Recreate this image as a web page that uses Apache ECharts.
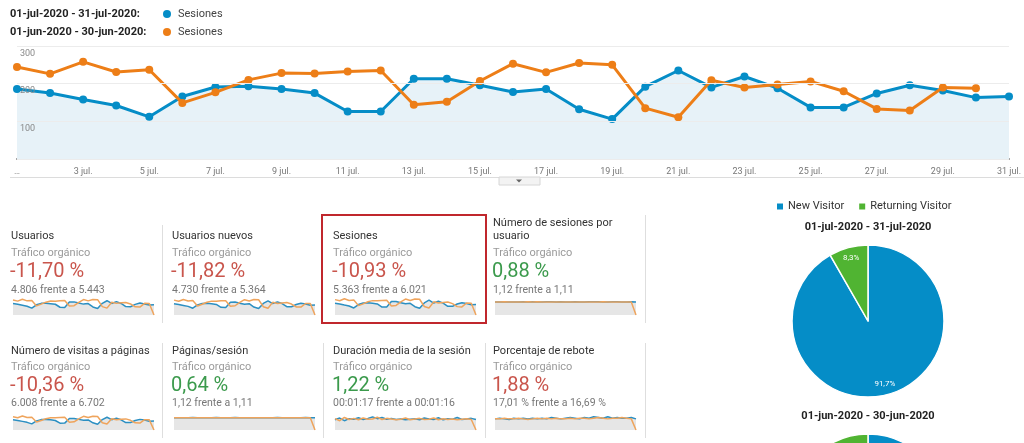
<!DOCTYPE html>
<html><head><meta charset="utf-8">
<script src="https://cdn.jsdelivr.net/npm/echarts@6/dist/echarts.min.js"></script>
<style>html,body{margin:0;padding:0;background:#fff}#c{width:1024px;height:443px}</style>
</head><body><div id="c"></div>
<script>
// ---------- DATA ----------
const days = ["1 jul.","2 jul.","3 jul.","4 jul.","5 jul.","6 jul.","7 jul.","8 jul.","9 jul.","10 jul.","11 jul.","12 jul.","13 jul.","14 jul.","15 jul.","16 jul.","17 jul.","18 jul.","19 jul.","20 jul.","21 jul.","22 jul.","23 jul.","24 jul.","25 jul.","26 jul.","27 jul.","28 jul.","29 jul.","30 jul.","31 jul."];
const yTicks = [0, 100, 200, 300];
const periodJul = "01-jul-2020 - 31-jul-2020";
const periodJun = "01-jun-2020 - 30-jun-2020";
const metricName = "Sesiones";
// Sesiones per day (main chart)
const sesionesJul = [186,175,158,142,112,166,191,193,186,175,126,126,213,213,196,178,186,132,106,192,235,190,219,188,137,137,174,196,182,163,166];
const sesionesJun = [244,226,258,231,237,149,177,210,228,227,232,235,144,152,207,253,230,255,250,135,111,209,190,198,206,180,133,129,190,188];

// Scorecards
const cardTitles = [["Usuarios"],["Usuarios nuevos"],["Sesiones"],["Número de sesiones por","usuario"],["Número de visitas a páginas"],["Páginas/sesión"],["Duración media de la sesión"],["Porcentaje de rebote"]];
const cardSegment = "Tráfico orgánico";
const cardPct = ["-11,70 %","-11,82 %","-10,93 %","0,88 %","-10,36 %","0,64 %","1,22 %","1,88 %"];
const cardGood = [false,false,false,true,false,true,true,false];
const cardSub = ["4.806 frente a 5.443","4.730 frente a 5.364","5.363 frente a 6.021","1,12 frente a 1,11","6.008 frente a 6.702","1,12 frente a 1,11","00:01:17 frente a 00:01:16","17,01 % frente a 16,69 %"];

// Sparklines (July = blue, June = orange; last June point drops to 0)
const sparkUsuariosJul = [168,157,143,129,101,150,171,174,166,158,114,112,191,193,175,160,168,118,96,172,210,170,196,170,124,122,156,176,163,146,150];
const sparkUsuariosJun = [221,204,231,208,214,134,160,189,206,203,210,213,131,137,187,227,208,229,226,123,101,188,171,179,185,163,120,117,171,170,0];
const sparkNuevosJul = [166,155,141,127,100,148,169,172,164,156,113,111,188,190,173,158,166,117,95,170,207,168,193,168,122,121,154,173,161,144,148];
const sparkNuevosJun = [219,202,228,206,212,133,158,187,204,201,208,211,130,136,185,225,206,227,224,122,100,186,170,177,183,161,119,116,169,168,0];
const sparkSesionesJul = [186,175,158,142,112,166,191,193,186,175,126,126,213,213,196,178,186,132,106,192,235,190,219,188,137,137,174,196,182,163,166];
const sparkSesionesJun = [244,226,258,231,237,149,177,210,228,227,232,235,144,152,207,253,230,255,250,135,111,209,190,198,206,180,133,129,190,188,0];
const sparkSesUsrJul = [1.11,1.11,1.10,1.11,1.11,1.11,1.12,1.11,1.12,1.11,1.11,1.12,1.12,1.11,1.12,1.11,1.11,1.12,1.10,1.11,1.12,1.12,1.12,1.11,1.10,1.12,1.12,1.11,1.11,1.12,1.11];
const sparkSesUsrJun = [1.10,1.11,1.12,1.11,1.11,1.11,1.11,1.12,1.11,1.12,1.11,1.10,1.10,1.11,1.11,1.11,1.10,1.11,1.11,1.10,1.10,1.11,1.11,1.12,1.11,1.11,1.11,1.10,1.11,1.11,0];
const sparkVisitasJul = [209,196,178,158,126,186,214,216,209,196,141,142,238,239,219,199,208,148,119,215,263,213,245,211,153,154,195,219,204,182,186];
const sparkVisitasJun = [272,252,288,257,264,166,197,234,254,253,258,262,160,169,231,282,256,284,279,150,124,233,212,221,229,200,148,144,212,209,0];
const sparkPagSesJul = [1.12,1.12,1.11,1.12,1.13,1.12,1.12,1.11,1.12,1.13,1.12,1.12,1.12,1.13,1.12,1.11,1.12,1.12,1.12,1.12,1.11,1.12,1.13,1.12,1.12,1.11,1.12,1.12,1.13,1.12,1.12];
const sparkPagSesJun = [1.11,1.12,1.12,1.11,1.12,1.12,1.11,1.12,1.12,1.11,1.12,1.11,1.11,1.12,1.12,1.11,1.11,1.12,1.11,1.11,1.12,1.11,1.11,1.12,1.11,1.12,1.11,1.11,1.12,1.11,0];
const sparkDuracionJul = [70,82,64,78,74,84,72,80,90,78,86,74,80,72,76,70,74,78,70,82,76,72,84,70,78,74,86,72,76,80,72];
const sparkDuracionJun = [78,64,86,72,80,70,82,74,76,88,72,80,76,70,74,82,70,76,80,72,74,82,70,78,72,76,70,74,78,72,0];
const sparkReboteJul = [16,17,16,15,17,16,17,16,17,16,17,16,18,17,16,17,18,17,16,18,17,19,18,17,19,17,18,17,17,18,16];
const sparkReboteJun = [16,16,17,16,16,17,16,15,16,17,16,17,16,17,16,16,17,16,17,17,16,17,18,17,16,17,17,18,17,16,0];

// Pies
const pieNames = ["New Visitor","Returning Visitor"];
const pieJul = [91.7, 8.3];
const pieJulLabels = ["91,7%","8,3%"];
const pieJun = [90.9, 9.1];
const pieJunLabels = ["90,9%","9,1%"];

// ---------- STYLE / LAYOUT ----------
const BLUE = "#058dc7", ORANGE = "#ed7e17", GREEN = "#50b432";
const SP_BLUE = "#2b8fc2", SP_ORANGE = "#efa45c";
const FONT = "Roboto";
const sparkJul = [sparkUsuariosJul,sparkNuevosJul,sparkSesionesJul,sparkSesUsrJul,sparkVisitasJul,sparkPagSesJul,sparkDuracionJul,sparkReboteJul];
const sparkJun = [sparkUsuariosJun,sparkNuevosJun,sparkSesionesJun,sparkSesUsrJun,sparkVisitasJun,sparkPagSesJun,sparkDuracionJun,sparkReboteJun];
const sparkMax = [250,250,270,1.45,330,1.45,110,23];
const colX = [11,172,333,493];
const rowY = [{title:236,seg:253,pct:272,sub:290,spTop:298,spH:17},{title:351,seg:367,pct:386,sub:403,spTop:414,spH:16}];

const grids = [{left:17,right:15,top:46,height:113}];
const xAxes = [{
  type:'category', data:days, boundaryGap:false, gridIndex:0,
  axisLine:{lineStyle:{color:'#8a8a8a',width:2}}, axisTick:{show:false},
  axisLabel:{interval:1, color:'#777', fontSize:9, fontFamily:FONT, margin:8,
    formatter:(v,i)=> i===0 ? '…' : v}
}];
const yAxes = [{
  type:'value', gridIndex:0, min:yTicks[0], max:yTicks[yTicks.length-1], interval:100, z:10,
  axisLine:{show:false}, axisTick:{show:false},
  splitLine:{lineStyle:{color:'#ececec'}},
  axisLabel:{inside:true, verticalAlign:'top', margin:3, padding:[3,0,0,0], color:'#888', fontSize:9, fontFamily:FONT,
    formatter:v=> v===0 ? '' : String(v)}
}];
const series = [
  {type:'line', xAxisIndex:0, yAxisIndex:0, data:sesionesJul, z:3,
   symbol:'circle', symbolSize:8, lineStyle:{color:BLUE,width:3}, itemStyle:{color:BLUE},
   areaStyle:{color:'#e7f2f8', opacity:1}},
  {type:'line', xAxisIndex:0, yAxisIndex:0, data:sesionesJun, z:4,
   symbol:'circle', symbolSize:8, lineStyle:{color:ORANGE,width:3}, itemStyle:{color:ORANGE}}
];
for (let i=0;i<8;i++){
  const r = rowY[Math.floor(i/4)], c = colX[i%4];
  grids.push({left:c+2, top:r.spTop, width:141, height:r.spH});
  xAxes.push({type:'category', data:days, boundaryGap:false, gridIndex:i+1, show:false});
  yAxes.push({type:'value', gridIndex:i+1, min:0, max:sparkMax[i], show:false});
  series.push({type:'line', xAxisIndex:i+1, yAxisIndex:i+1, data:sparkJul[i], symbol:'none', silent:true,
    lineStyle:{color:SP_BLUE,width:1.5}, areaStyle:{color:'#e6e6e6',opacity:1}});
  series.push({type:'line', xAxisIndex:i+1, yAxisIndex:i+1, data:sparkJun[i], symbol:'none', silent:true,
    lineStyle:{color:SP_ORANGE,width:1.5}});
}
const pieColors = [BLUE, GREEN];
function pieData(vals){ return pieNames.map((n,k)=>({name:n, value:vals[k], itemStyle:{color:pieColors[k]}})); }
const PR = 76;
[[pieJul,pieJulLabels,[868,321]],[pieJun,pieJunLabels,[868,510]]].forEach(([vals,labs,ctr])=>{
  series.push({type:'pie', center:ctr, radius:[0,PR], data:pieData(vals), startAngle:90, clockwise:true,
    label:{show:false}, labelLine:{show:false}, silent:true,
    itemStyle:{borderColor:'#fff', borderWidth:1.5}});
  series.push({type:'pie', center:ctr, radius:[PR*0.64,PR], startAngle:90, clockwise:true, silent:true,
    data:pieNames.map((n,k)=>({name:n, value:vals[k], itemStyle:{color:'rgba(0,0,0,0)'}, label:{formatter:labs[k]}})),
    label:{show:true, position:'inside', color:'#fff', fontSize:8, fontFamily:FONT}, labelLine:{show:false}});
});

// ---------- GRAPHICS (text, frames) ----------
const g = [];
function txt(x,y,t,font,fill,align){ g.push({type:'text', x:x, y:y, silent:true, z:20, style:{text:t, font:font, fill:fill, align:align||'left', verticalAlign:'middle'}}); }
// header legend
txt(10,14,periodJul+':','bold 11px '+FONT,'#222');
txt(10,32,periodJun+':','bold 11px '+FONT,'#222');
g.push({type:'circle', shape:{cx:167,cy:14,r:4}, style:{fill:BLUE}, silent:true});
g.push({type:'circle', shape:{cx:167,cy:32,r:4}, style:{fill:ORANGE}, silent:true});
txt(178,14,metricName,'11px '+FONT,'#444');
txt(178,32,metricName,'11px '+FONT,'#444');
// rule under x labels + toggle tab
g.push({type:'line', shape:{x1:10,y1:177.5,x2:1024,y2:177.5}, style:{stroke:'#dcdcdc',lineWidth:1}, silent:true});
g.push({type:'rect', shape:{x:499,y:177,width:41,height:8}, style:{fill:'#f3f3f3',stroke:'#d6d6d6',lineWidth:1}, silent:true});
g.push({type:'polygon', shape:{points:[[516,179.5],[522,179.5],[519,182.5]]}, style:{fill:'#666'}, silent:true});
// cards
for (let i=0;i<8;i++){
  const r = rowY[Math.floor(i/4)], c = colX[i%4];
  const t = cardTitles[i];
  if (t.length===1) txt(c,r.title,t[0],'11px '+FONT,'#333');
  else { txt(c,r.title-13,t[0],'11px '+FONT,'#333'); txt(c,r.title,t[1],'11px '+FONT,'#333'); }
  txt(c,r.seg,cardSegment,'11px '+FONT,'#9a9a9a');
  txt(c-1,r.pct,cardPct[i],'20px '+FONT, cardGood[i] ? '#3b9a4c' : '#c9554c');
  txt(c,r.sub,cardSub[i],'10.5px '+FONT,'#777');
}
// separators
[[162,225,323],[645,215,323],[162,343,438],[323,343,438],[485,343,438],[645,343,438]].forEach(([x,y1,y2])=>{
  g.push({type:'line', shape:{x1:x+0.5,y1:y1,x2:x+0.5,y2:y2}, style:{stroke:'#dedede',lineWidth:1}, silent:true});
});
// highlight box
g.push({type:'rect', shape:{x:322,y:215,width:164,height:108}, style:{fill:'none',stroke:'#c0272d',lineWidth:2}, silent:true, z:10});
// pie titles
txt(868,227,periodJul,'bold 11px '+FONT,'#222','center');
txt(868,416,periodJun,'bold 11px '+FONT,'#222','center');

const chart = echarts.init(document.getElementById('c'), null, {renderer:'canvas'});
chart.setOption({
  animation:false,
  backgroundColor:'#fff',
  textStyle:{fontFamily:FONT},
  legend:{data:pieNames, left:775, top:201, padding:0, icon:'rect', itemWidth:8, itemHeight:8, itemGap:13,
    textStyle:{fontSize:11, color:'#333', fontFamily:FONT, padding:[0,0,0,-1]}, selectedMode:false},
  grid:grids, xAxis:xAxes, yAxis:yAxes, series:series, graphic:g
});
</script></body></html>
